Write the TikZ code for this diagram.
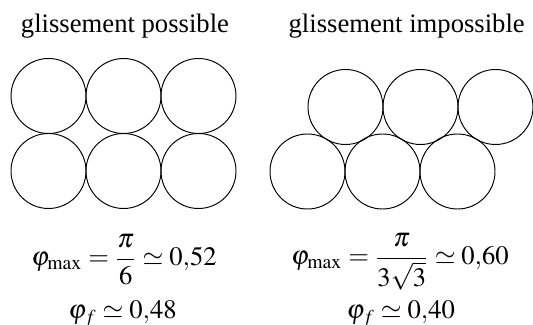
\documentclass[tikz,border=0pt]{standalone}
\usepackage{amsmath}
\usepackage{mathptmx}
\usepackage{fontspec}
\setmainfont{Liberation Serif}
\begin{document}
\begin{tikzpicture}[x=0.469pt,y=-0.469pt,
  grain/.style={draw=black,line width=0.45pt},
  lab/.style={anchor=base,inner sep=0pt,font=\fontsize{12.5}{15}\selectfont}]
\useasboundingbox (0,0) rectangle (533,325);
% left panel: square packing
\begin{scope}
\clip (0,40) rectangle (238.5,220);
\foreach \cx in {48.5,123.5,198.5}{
  \draw[grain] (\cx,96) circle [radius=37.5];
  \draw[grain] (\cx,171) circle [radius=37.5];
}
\end{scope}
% right panel: triangular packing
\begin{scope}
\clip (260,40) rectangle (533,220);
\foreach \cx in {307.5,382.5,457.5}{
  \draw[grain] (\cx,171.5) circle [radius=37.5];
}
\foreach \cx in {345.5,420.5,495.5}{
  \draw[grain] (\cx,107) circle [radius=37.5];
}
\end{scope}
% titles
\node[lab] (t1) at (125,33) {glissement possible};
\node[lab] (t2) at (406.7,33) {glissement impossible};
% formulas
\node[lab] (f1) at (124,266) {$\varphi_{\max}=\dfrac{\pi}{6}\simeq 0{,}52$};
\node[lab] (g1) at (122.5,319) {$\varphi_f\simeq 0{,}48$};
\node[lab] (f2) at (400,265) {$\varphi_{\max}=\dfrac{\pi}{3\sqrt{3}}\simeq 0{,}60$};
\node[lab] (g2) at (400.8,319) {$\varphi_f\simeq 0{,}40$};
\end{tikzpicture}
\end{document}
